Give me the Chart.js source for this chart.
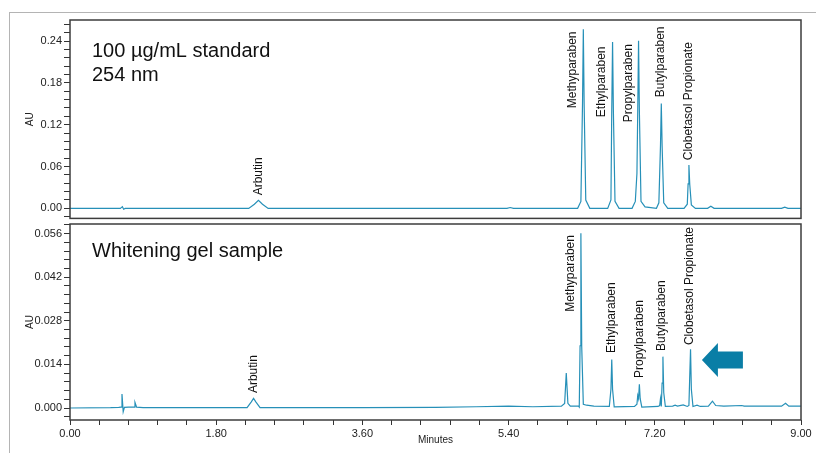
<!DOCTYPE html>
<html>
<head>
<meta charset="utf-8">
<script src="https://cdn.jsdelivr.net/npm/chart.js@4.4.1/dist/chart.umd.min.js"></script>
<style>
  body { margin: 0; background: #fff; width: 816px; height: 453px; overflow: hidden; position: relative; }
  #frame { position: absolute; left: 9px; top: 12px; width: 900px; height: 600px; border: 1.5px solid #b4b4b4; }
  canvas { position: absolute; left: 0; }
  #stdChart { top: 0; }
  #gelChart { top: 204px; }
</style>
</head>
<body>
<div id="frame"></div>
<canvas id="stdChart" width="816" height="227"></canvas>
<canvas id="gelChart" width="816" height="249"></canvas>
<script>
// Standard 100 ug/mL, 254 nm (time in minutes, absorbance in AU)
const stdTime = [0.00, 0.62, 0.645, 0.66, 0.68, 2.20, 2.27, 2.32, 2.37, 2.44, 5.38, 5.42, 5.46,
  6.25, 6.29, 6.31, 6.32, 6.33, 6.35, 6.40, 6.62, 6.66, 6.67, 6.68, 6.69, 6.71, 6.76,
  6.92, 6.96, 6.98, 6.99, 7.00, 7.01, 7.03, 7.08, 7.22, 7.25, 7.27, 7.28, 7.29, 7.31, 7.36,
  7.56, 7.60, 7.61, 7.62, 7.63, 7.65, 7.70, 7.85, 7.89, 7.93, 8.76, 8.80, 8.84, 9.00];
const stdAU = [0, 0, 0.0025, -0.0012, 0, 0, 0.006, 0.0115, 0.006, 0, 0, 0.0012, 0,
  0, 0.01, 0.15, 0.257, 0.15, 0.012, 0, 0, 0.012, 0.14, 0.2386, 0.14, 0.01, 0,
  0, 0.01, 0.05, 0.14, 0.2405, 0.14, 0.01, 0.002, 0, 0.008, 0.09, 0.1505, 0.09, 0.008, 0,
  0, 0.006, 0.035, 0.0622, 0.035, 0.005, 0, 0, 0.003, 0, 0, 0.0018, 0, 0];

// Whitening gel sample
const gelTime = [0.00, 0.50, 0.60, 0.63, 0.64, 0.655, 0.67, 0.72, 0.79, 0.80, 0.82, 0.90,
  2.18, 2.23, 2.26, 2.29, 2.34, 3.60, 4.50, 5.00, 5.40, 5.70, 6.05, 6.09, 6.11, 6.13, 6.16,
  6.26, 6.27, 6.28, 6.29, 6.30, 6.32, 6.36, 6.45, 6.64, 6.66, 6.67, 6.68, 6.70,
  6.95, 6.98, 6.99, 7.00, 7.01, 7.02, 7.04, 7.24, 7.26, 7.27, 7.28, 7.29, 7.30, 7.31, 7.33,
  7.42, 7.45, 7.48, 7.55, 7.60, 7.62, 7.63, 7.64, 7.65, 7.67, 7.72, 7.76, 7.86, 7.91, 7.95,
  8.05, 8.27, 8.30, 8.76, 8.81, 8.85, 9.00];
const gelAU = [0, 0.0001, 0.0002, 0.0003, 0.0045, -0.0012, 0.0002, 0.0003, 0.0003, 0.0018, 0.0003, 0.0001,
  0.0001, 0.0019, 0.0031, 0.0019, 0.0001, 0.0001, 0.0002, 0.0004, 0.0006, 0.0004, 0.0006, 0.0015, 0.0112, 0.0015, 0.0006,
  0.0006, 0.0003, 0.02, 0.0561, 0.02, 0.0012, 0.0009, 0.0006, 0.0005, 0.006, 0.0156, 0.006, 0.0004,
  0.0005, 0.0012, 0.004, 0.003, 0.0076, 0.003, 0.0003, 0.0005, 0.0008, 0.003, 0.0005, 0.008, 0.0165, 0.005, 0.0005,
  0.0006, 0.0009, 0.0006, 0.001, 0.0005, 0.0008, 0.01, 0.0189, 0.006, 0.0005, 0.0009, 0.0005, 0.0006, 0.0022, 0.0008,
  0.0006, 0.0008, 0.0006, 0.0006, 0.0015, 0.0006, 0.0006];

// peak names and where their (rotated) labels start, in minutes / AU
const peakNames = ['Arbutin', 'Methyparaben', 'Ethylparaben', 'Propylparaben', 'Butylparaben', 'Clobetasol Propionate'];
const stdLabelTime = [2.318, 6.185, 6.547, 6.876, 7.274, 7.615];
const stdLabelAU = [0.0187, 0.1437, 0.1308, 0.1236, 0.1595, 0.069];
const gelLabelTime = [2.256, 6.164, 6.670, 7.011, 7.286, 7.632];
const gelLabelAU = [0.0048, 0.0309, 0.01766, 0.00963, 0.0183, 0.0202];

// axes
const xMajor = [0, 1.8, 3.6, 5.4, 7.2, 9];
const stdMajor = [0, 0.06, 0.12, 0.18, 0.24];
const gelMajor = [0, 0.014, 0.028, 0.042, 0.056];

const lineColor = '#2690b8';
Chart.defaults.font.family = '"Liberation Sans", Arial, sans-serif';
Chart.defaults.color = '#222';

function isMajor(v, list) {
  return list.some(m => Math.abs(m - v) < 1e-9);
}
function minorTicks(from, to, step) {
  const out = [];
  for (let i = 0; from + i * step <= to + 1e-9; i++) out.push(+(from + i * step).toFixed(6));
  return out;
}

// box, panel titles, peak names, arrow
const decor = {
  id: 'decor',
  afterDraw(chart, args, opts) {
    const { ctx, chartArea: a, scales } = chart;
    ctx.save();
    ctx.strokeStyle = '#3c3c3c';
    ctx.lineWidth = 1.5;
    ctx.strokeRect(a.left, a.top, a.right - a.left, a.bottom - a.top);

    ctx.fillStyle = '#111';
    ctx.font = '20px "Liberation Sans", Arial, sans-serif';
    ctx.textBaseline = 'alphabetic';
    opts.titles.forEach((t, i) => ctx.fillText(t, a.left + 22, a.top + opts.titleY + i * 24));

    ctx.font = '12px "Liberation Sans", Arial, sans-serif';
    ctx.textBaseline = 'middle';
    peakNames.forEach((name, i) => {
      const x = scales.x.getPixelForValue(opts.labelTime[i]);
      const y = scales.y.getPixelForValue(opts.labelAU[i]);
      ctx.save();
      ctx.translate(x, y);
      ctx.rotate(-Math.PI / 2);
      ctx.fillText(name, 0, 0);
      ctx.restore();
    });

    if (opts.arrow) {
      const tx = scales.x.getPixelForValue(opts.arrow[0]);
      const ty = scales.y.getPixelForValue(opts.arrow[1]);
      ctx.fillStyle = '#0a7ea6';
      ctx.beginPath();
      ctx.moveTo(tx, ty);
      ctx.lineTo(tx + 16, ty - 17);
      ctx.lineTo(tx + 16, ty - 8.5);
      ctx.lineTo(tx + 41, ty - 8.5);
      ctx.lineTo(tx + 41, ty + 8.5);
      ctx.lineTo(tx + 16, ty + 8.5);
      ctx.lineTo(tx + 16, ty + 17);
      ctx.closePath();
      ctx.fill();
    }
    ctx.restore();
  }
};

function makeChart(id, times, values, yMin, yMax, yMajor, yStep, decimals, showX, padBottom, deco) {
  return new Chart(document.getElementById(id), {
    type: 'line',
    data: {
      datasets: [{
        data: times.map((t, i) => ({ x: t, y: values[i] })),
        borderColor: lineColor,
        borderWidth: 1.2,
        pointRadius: 0,
        tension: 0
      }]
    },
    options: {
      responsive: false,
      animation: false,
      devicePixelRatio: 1,
      layout: { padding: { left: 20, right: 15, top: 20, bottom: padBottom } },
      plugins: { legend: { display: false }, tooltip: { enabled: false }, decor: deco },
      scales: {
        x: {
          type: 'linear', min: 0, max: 9,
          display: showX,
          afterBuildTicks: s => { s.ticks = minorTicks(0, 9, 0.36).map(v => ({ value: v })); },
          afterFit: s => { if (showX) s.height = 30; },
          ticks: {
            autoSkip: false, maxRotation: 0, padding: 2,
            font: { size: 11 },
            callback: v => isMajor(v, xMajor) ? v.toFixed(2) : ''
          },
          grid: { drawOnChartArea: false, tickLength: 5, color: '#333' },
          border: { display: false },
          title: { display: true, text: 'Minutes', font: { size: 10 }, padding: { top: 0, bottom: 4 } }
        },
        y: {
          min: yMin, max: yMax,
          afterBuildTicks: s => { s.ticks = minorTicks(-yStep, yMax, yStep).filter(v => v >= yMin).map(v => ({ value: v })); },
          afterFit: s => { s.width = 50; },
          ticks: {
            autoSkip: false, padding: 2,
            font: { size: 11 },
            callback: v => isMajor(v, yMajor) ? v.toFixed(decimals) : ''
          },
          grid: { drawOnChartArea: false, tickLength: 6, color: '#333' },
          border: { display: false },
          title: { display: true, text: 'AU', font: { size: 10 } }
        }
      }
    },
    plugins: [decor]
  });
}

makeChart('stdChart', stdTime, stdAU, -0.0144, 0.2702, stdMajor, 0.012, 2, false, 4, {
  titles: ['100 µg/mL standard', '254 nm'], titleY: 37,
  labelTime: stdLabelTime, labelAU: stdLabelAU
});
makeChart('gelChart', gelTime, gelAU, -0.00385, 0.0591, gelMajor, 0.0028, 3, true, 3, {
  titles: ['Whitening gel sample'], titleY: 33,
  labelTime: gelLabelTime, labelAU: gelLabelAU,
  arrow: [7.78, 0.0154]
});
</script>
</body>
</html>
